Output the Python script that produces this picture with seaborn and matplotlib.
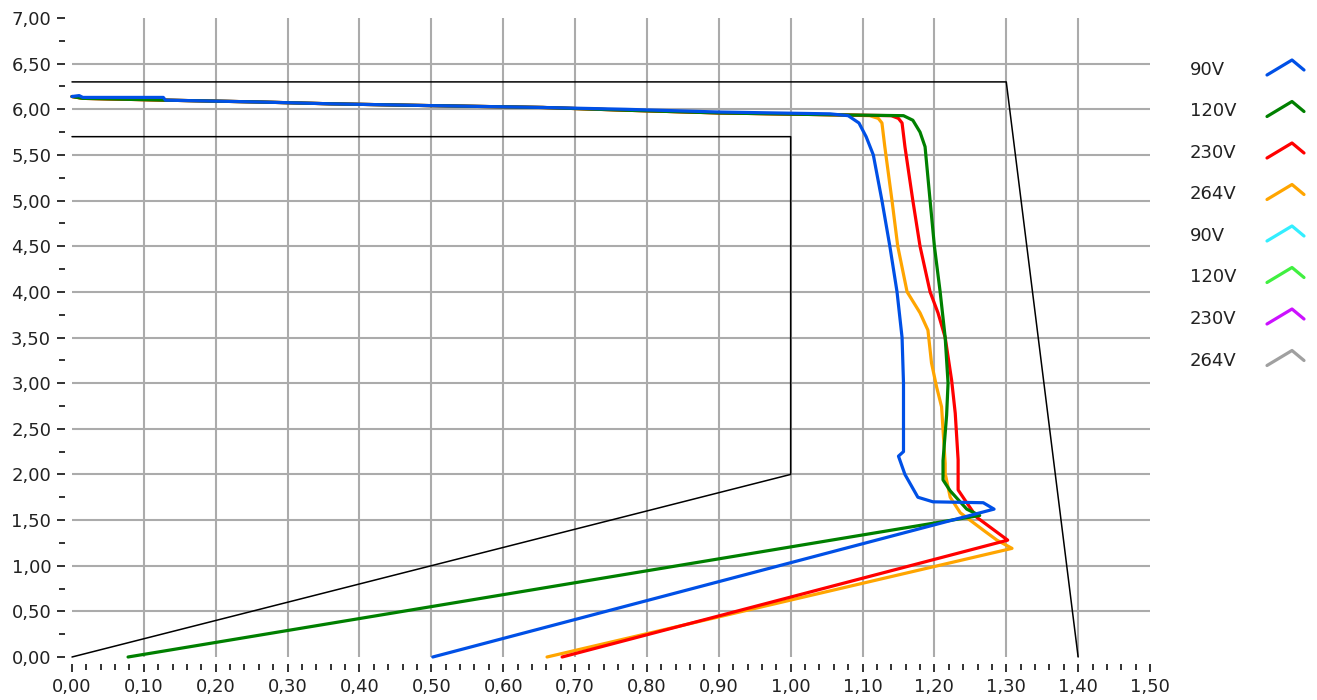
import numpy as np
import pandas as pd
import seaborn as sns
import matplotlib.pyplot as plt
from matplotlib.lines import Line2D
from matplotlib.ticker import MultipleLocator, FuncFormatter

# ---- data: output current (A) vs output voltage (V)
i_90 = [0.00, 0.01, 0.015, 0.127, 0.13, 0.26, 0.36, 0.50, 0.655, 0.77, 0.90, 1.055,
        1.080, 1.095, 1.105, 1.115, 1.127, 1.138, 1.148, 1.155, 1.157, 1.157, 1.150,
        1.159, 1.177, 1.198, 1.268, 1.283, 0.502]
u_90 = [6.14, 6.15, 6.13, 6.13, 6.10, 6.08, 6.06, 6.04, 6.02, 6.00, 5.97, 5.95,
        5.93, 5.85, 5.70, 5.50, 5.00, 4.50, 4.00, 3.50, 3.00, 2.25, 2.20,
        2.00, 1.75, 1.70, 1.69, 1.62, 0.00]

i_120 = [0.00, 0.015, 0.13, 0.26, 0.36, 0.50, 0.655, 0.77, 0.90, 1.055, 1.157,
         1.170, 1.180, 1.187, 1.194, 1.200, 1.208, 1.215, 1.219, 1.217, 1.212,
         1.212, 1.222, 1.245, 1.263, 0.078]
u_120 = [6.14, 6.12, 6.10, 6.08, 6.06, 6.04, 6.02, 5.99, 5.96, 5.94, 5.93,
         5.88, 5.75, 5.59, 5.00, 4.50, 4.00, 3.50, 3.00, 2.65, 2.15,
         1.94, 1.82, 1.62, 1.55, 0.00]

i_230 = [0.00, 0.015, 0.13, 0.26, 0.36, 0.50, 0.655, 0.77, 0.90, 1.055, 1.140,
         1.150, 1.155, 1.159, 1.170, 1.180, 1.194, 1.205, 1.215, 1.224, 1.229,
         1.233, 1.233, 1.245, 1.259, 1.302, 0.682]
u_230 = [6.14, 6.12, 6.10, 6.08, 6.06, 6.04, 6.02, 5.99, 5.96, 5.94, 5.93,
         5.90, 5.85, 5.59, 5.00, 4.50, 4.00, 3.77, 3.50, 3.03, 2.67,
         2.16, 1.83, 1.69, 1.53, 1.28, 0.00]

i_264 = [0.00, 0.015, 0.13, 0.26, 0.36, 0.50, 0.655, 0.77, 0.90, 1.055, 1.110,
         1.122, 1.127, 1.131, 1.141, 1.149, 1.162, 1.180, 1.191, 1.196, 1.203,
         1.210, 1.215, 1.215, 1.222, 1.236, 1.268, 1.287, 1.308, 0.661]
u_264 = [6.14, 6.12, 6.10, 6.08, 6.06, 6.04, 6.02, 5.99, 5.96, 5.94, 5.93,
         5.90, 5.85, 5.59, 5.00, 4.50, 4.00, 3.77, 3.58, 3.22, 2.96,
         2.74, 2.12, 2.01, 1.75, 1.58, 1.39, 1.28, 1.19, 0.00]

# limit envelope
upper_i = [0.00, 1.30, 1.40]
upper_u = [6.30, 6.30, 0.00]
lower_i = [0.00, 1.00, 1.00, 0.00]
lower_u = [5.70, 5.70, 2.00, 0.00]

legend_labels = ["90V", "120V", "230V", "264V", "90V", "120V", "230V", "264V"]
legend_colors = ["#0050E6", "#008000", "#FF0000", "#FFA500",
                 "#33EEFF", "#40F040", "#CC11FF", "#A0A0A0"]

sns.set_style("white")
plt.rcParams['font.family'] = ['DejaVu Sans']
plt.rcParams['font.size'] = 13

fig = plt.figure(figsize=(13.17, 7.0), dpi=100)
ax = fig.add_axes([72/1317, 43/700, (1150-72)/1317, (657-18)/700])

# grid (interior lines only)
ax.vlines(np.arange(0.1, 1.45, 0.1), 0, 7, color="#ABABAB", lw=1.5, zorder=0)
ax.hlines(np.arange(0.5, 6.75, 0.5), 0, 1.5, color="#ABABAB", lw=1.5, zorder=0)

ax.plot(upper_i, upper_u, color="black", lw=1.1, zorder=2, clip_on=False)
ax.plot(lower_i, lower_u, color="black", lw=1.1, zorder=2, clip_on=False)

series = [(i_264, u_264, legend_colors[3], 3), (i_230, u_230, legend_colors[2], 4),
          (i_120, u_120, legend_colors[1], 5), (i_90, u_90, legend_colors[0], 6)]
for xi, yu, col, z in series:
    df = pd.DataFrame({"I": xi, "U": yu})
    sns.lineplot(data=df, x="I", y="U", sort=False, estimator=None, color=col,
                 lw=2.3, ax=ax, zorder=z, clip_on=False)

ax.set_xlim(0, 1.5)
ax.set_ylim(0, 7)
ax.set_xlabel("")
ax.set_ylabel("")
for s in ax.spines.values():
    s.set_visible(False)
ax.spines['left'].set_position(('outward', 5))
ax.spines['bottom'].set_position(('outward', 5))

fmt = FuncFormatter(lambda v, p: f"{v:.2f}".replace(".", ","))
ax.xaxis.set_major_locator(MultipleLocator(0.1))
ax.xaxis.set_minor_locator(MultipleLocator(0.02))
ax.yaxis.set_major_locator(MultipleLocator(0.5))
ax.yaxis.set_minor_locator(MultipleLocator(0.25))
ax.xaxis.set_major_formatter(fmt)
ax.yaxis.set_major_formatter(fmt)
ax.tick_params(which="major", length=6, width=1.3, color="#222222",
               labelcolor="#222222", labelsize=13)
ax.tick_params(axis="x", which="major", pad=4)
ax.tick_params(axis="y", which="major", pad=4)
ax.tick_params(which="minor", length=4, width=1.3, color="#222222")
ax.tick_params(bottom=True, left=True, which="both")

# legend drawn at the right, label then a small chevron line
for k, (lab, col) in enumerate(zip(legend_labels, legend_colors)):
    yc = 70 + 41.5 * k
    fig.text(1190/1317, 1 - yc/700, lab, va="center", ha="left",
             fontsize=13, color="#222222")
    xs = np.array([1267, 1292, 1304]) / 1317
    ys = 1 - np.array([yc + 5, yc - 10, yc]) / 700
    fig.add_artist(Line2D(xs, ys, transform=fig.transFigure, color=col, lw=2.3))

fig.savefig("out.png", dpi=100)
